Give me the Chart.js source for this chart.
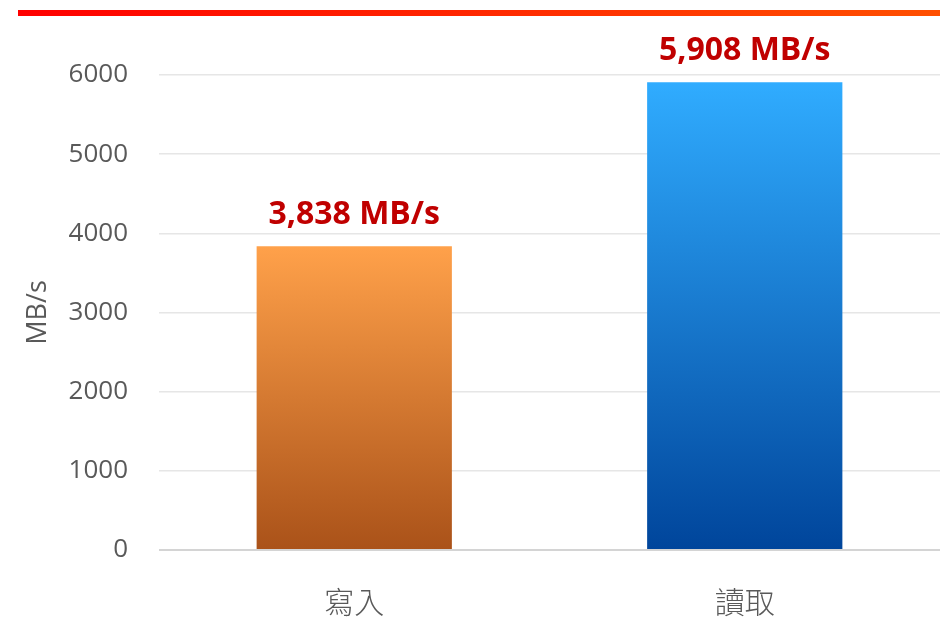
<!DOCTYPE html>
<html>
<head>
<meta charset="utf-8">
<script src="https://cdn.jsdelivr.net/npm/chart.js@4"></script>
<style>
  html, body { margin: 0; padding: 0; background: #fff; }
  #wrap { width: 940px; height: 619px; }
</style>
</head>
<body>
<div id="wrap"><canvas id="c" width="940" height="619"></canvas></div>
<script>
// chart data
const categories = ['寫入', '讀取'];
const speeds = [3838, 5908];
const valueLabels = ['3,838 MB/s', '5,908 MB/s'];
const yTicks = [0, 1000, 2000, 3000, 4000, 5000, 6000];

// top gradient (light) -> bottom (dark) for each bar
const barTop = ['#ffa14a', '#30acff'];
const barBottom = ['#aa5219', '#00459b'];

const GREY = '#595959';

function barFill(ctx) {
  const chart = ctx.chart;
  const i = ctx.dataIndex;
  if (!chart.chartArea || i === undefined) return barTop[i || 0];
  const y = chart.scales.y;
  const top = y.getPixelForValue(speeds[i]);
  const bottom = y.getPixelForValue(0);
  const g = chart.ctx.createLinearGradient(0, top, 0, bottom);
  g.addColorStop(0, barTop[i]);
  g.addColorStop(1, barBottom[i]);
  return g;
}

// red rule across the top of the slide
const topRule = {
  id: 'topRule',
  beforeDraw(chart) {
    const c = chart.ctx;
    const g = c.createLinearGradient(18, 0, 940, 0);
    g.addColorStop(0, '#ff0000');
    g.addColorStop(1, '#ff5000');
    c.save();
    c.fillStyle = g;
    c.fillRect(18, 10, 922, 6);
    c.restore();
  }
};

// value labels above the bars
const barLabels = {
  id: 'barLabels',
  afterDatasetsDraw(chart) {
    const c = chart.ctx;
    const meta = chart.getDatasetMeta(0);
    c.save();
    c.font = 'bold 32px "Open Sans", sans-serif';
    c.fillStyle = '#c00000';
    c.textAlign = 'center';
    c.textBaseline = 'middle';
    meta.data.forEach((bar, i) => {
      c.fillText(valueLabels[i], bar.x, bar.y - 31);
    });
    c.restore();
  }
};

new Chart(document.getElementById('c'), {
  type: 'bar',
  data: {
    labels: categories,
    datasets: [{
      data: speeds,
      backgroundColor: barFill,
      borderWidth: 0,
      categoryPercentage: 1,
      barPercentage: 0.5
    }]
  },
  options: {
    responsive: false,
    animation: false,
    layout: { padding: { top: 75, right: 0, left: 0, bottom: 0 } },
    plugins: {
      legend: { display: false },
      tooltip: { enabled: false }
    },
    scales: {
      x: {
        grid: { display: false },
        border: { display: false },
        ticks: {
          color: GREY,
          padding: 26,
          font: { family: '"Noto Sans CJK TC", sans-serif', size: 30, weight: 300 }
        },
        afterFit(scale) { scale.height = 69; }
      },
      y: {
        min: 0,
        max: 6000,
        afterBuildTicks(scale) { scale.ticks = yTicks.map(v => ({ value: v })); },
        grid: {
          color: (ctx) => ctx.tick && ctx.tick.value === 0 ? '#d4d4d4' : '#e6e6e6',
          lineWidth: (ctx) => ctx.tick && ctx.tick.value === 0 ? 2 : 1.5,
          drawTicks: false
        },
        border: { display: false },
        ticks: {
          color: GREY,
          padding: 31,
          callback: (v) => String(v),
          font: { family: '"Open Sans", sans-serif', size: 26 }
        },
        title: {
          display: true,
          text: 'MB/s',
          color: GREY,
          padding: { top: 22, bottom: 0 },
          font: { family: '"Open Sans", sans-serif', size: 27 }
        },
        afterFit(scale) { scale.width = 159; }
      }
    }
  },
  plugins: [topRule, barLabels]
});
</script>
</body>
</html>
